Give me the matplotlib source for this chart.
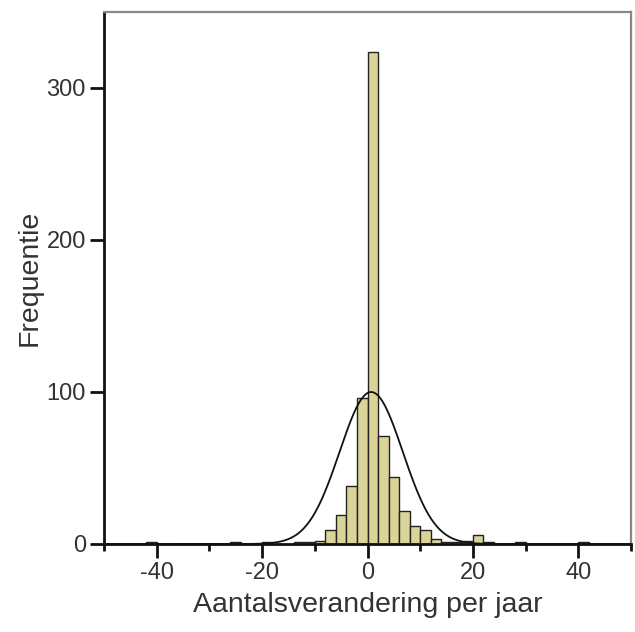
import numpy as np
import matplotlib
matplotlib.use('Agg')
import matplotlib.pyplot as plt
from matplotlib.ticker import MultipleLocator

plt.rcParams['font.family'] = ['Liberation Sans', 'DejaVu Sans']
plt.rcParams['axes.unicode_minus'] = False

# histogram bins (left edge, width 2) and counts
bin_left = [-42, -26, -20, -14, -12, -10, -8, -6, -4, -2, 0, 2, 4, 6, 8, 10, 12, 14, 16, 18, 20, 22, 28, 40]
counts = [1, 1, 1, 1, 1, 2, 9, 19, 38, 96, 324, 71, 44, 22, 12, 9, 3, 1, 1, 2, 6, 1, 1, 1]
bin_width = 2

# fitted normal curve parameters
fit_mean = 0.7
fit_sd = 6.0
fit_n = 752

x_ticks = [-40, -20, 0, 20, 40]
y_ticks = [0, 100, 200, 300]

fig = plt.figure(figsize=(6.35, 6.32), dpi=100)
ax = fig.add_axes([104 / 635, 1 - 544 / 632, 527 / 635, 532 / 632])

ax.bar(bin_left, counts, width=bin_width, align='edge', color='#dad498',
       edgecolor='#222222', linewidth=1.0, zorder=2)

xs = np.linspace(-50, 50, 600)
ys = fit_n * bin_width / (fit_sd * np.sqrt(2 * np.pi)) * np.exp(-0.5 * ((xs - fit_mean) / fit_sd) ** 2)
ax.plot(xs, ys, color='#111111', linewidth=1.3, zorder=3)

ax.set_xlim(-50, 50)
ax.set_ylim(0, 350)
ax.set_xticks(x_ticks)
ax.xaxis.set_minor_locator(MultipleLocator(10))
ax.set_yticks(y_ticks)

for side in ['left', 'bottom']:
    ax.spines[side].set_color('#111111')
    ax.spines[side].set_linewidth(2)
for side in ['top', 'right']:
    ax.spines[side].set_color('#888888')
    ax.spines[side].set_linewidth(1.6)

ax.tick_params(axis='both', which='major', labelsize=17, colors='#111111',
               labelcolor='#333333', width=2, length=10, pad=3)
ax.tick_params(axis='x', which='minor', width=2, length=5, colors='#111111')

ax.set_xlabel('Aantalsverandering per jaar', fontsize=20.5, color='#333333', labelpad=6)
ax.set_ylabel('Frequentie', fontsize=20.5, color='#333333', labelpad=3)

fig.savefig('out.png', dpi=100)
